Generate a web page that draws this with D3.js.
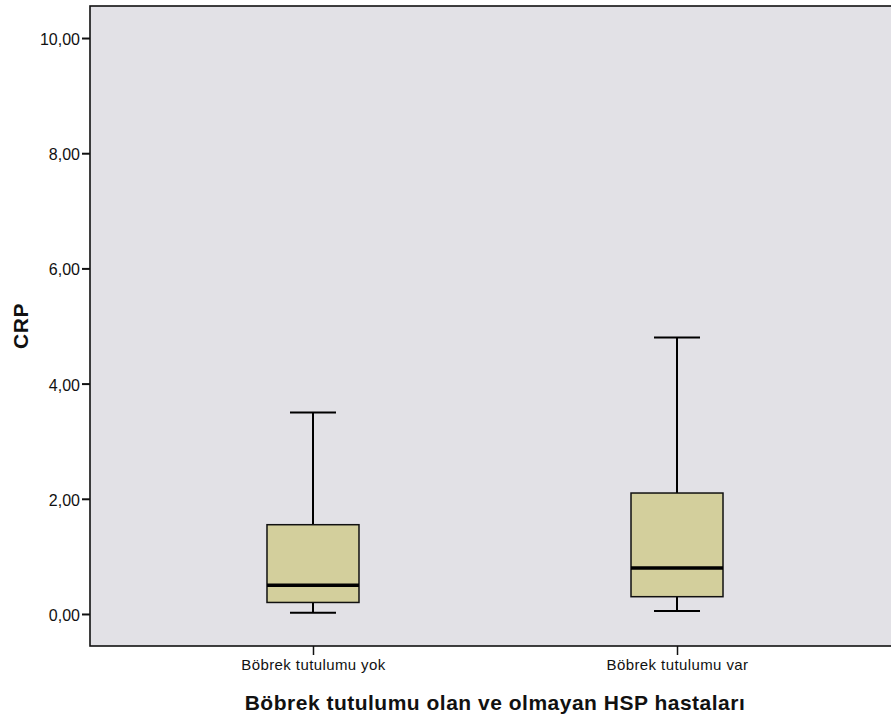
<!DOCTYPE html>
<html>
<head>
<meta charset="utf-8">
<script src="https://cdn.jsdelivr.net/npm/d3@7"></script>
<style>
  body { margin: 0; background: #fff; }
  text { font-family: "Liberation Sans", Arial, sans-serif; }
</style>
</head>
<body>
<svg width="891" height="720"></svg>
<script>
// data
const groups = ['Böbrek tutulumu yok', 'Böbrek tutulumu var'];
const whiskerLow = [0.02, 0.05];
const q1 = [0.2, 0.3];
const median = [0.5, 0.8];
const q3 = [1.55, 2.1];
const whiskerHigh = [3.5, 4.8];
const yTicks = [0, 2, 4, 6, 8, 10];

const svg = d3.select('svg');
const margin = { top: 6, right: -9, bottom: 74, left: 90 };
const width = 891, height = 720;

const x = d3.scalePoint()
  .domain(groups)
  .range([margin.left, width - margin.right])
  .padding(0.6126);

const y = d3.scaleLinear()
  .domain([-0.556, 10.556])
  .range([height - margin.bottom, margin.top]);

const boxes = groups.map((g, i) => ({
  g, lo: whiskerLow[i], q1: q1[i], med: median[i], q3: q3[i], hi: whiskerHigh[i]
}));

// plot background
svg.append('rect')
  .attr('x', margin.left)
  .attr('y', margin.top)
  .attr('width', width - margin.right - margin.left)
  .attr('height', height - margin.bottom - margin.top)
  .attr('fill', '#e2e1e6')
  .attr('stroke', '#111')
  .attr('stroke-width', 1.6);

// y axis
const yAxis = svg.append('g')
  .attr('transform', `translate(${margin.left},0)`)
  .call(d3.axisLeft(y).tickValues(yTicks).tickSize(8)
    .tickFormat(d => d3.format('.2f')(d).replace('.', ',')));
yAxis.select('.domain').remove();
yAxis.selectAll('line').attr('stroke', '#111').attr('stroke-width', 2);
yAxis.selectAll('text')
  .attr('font-size', 16)
  .attr('fill', '#111')
  .attr('x', -10)
  .attr('dy', '0.4em');

// x axis
const xAxis = svg.append('g')
  .attr('transform', `translate(0,${height - margin.bottom})`)
  .call(d3.axisBottom(x).tickSize(9));
xAxis.select('.domain').remove();
xAxis.selectAll('line').attr('stroke', '#111').attr('stroke-width', 1.5);
xAxis.selectAll('text')
  .attr('font-size', 15)
  .attr('letter-spacing', 0.4)
  .attr('fill', '#111')
  .attr('dy', 0)
  .attr('y', 24);

const bw = 92, cap = 46;
const g = svg.append('g').selectAll('g').data(boxes).join('g');

g.append('line')
  .attr('x1', d => x(d.g)).attr('x2', d => x(d.g))
  .attr('y1', d => y(d.hi)).attr('y2', d => y(d.q3))
  .attr('stroke', '#000').attr('stroke-width', 2);
g.append('line')
  .attr('x1', d => x(d.g)).attr('x2', d => x(d.g))
  .attr('y1', d => y(d.q1)).attr('y2', d => y(d.lo))
  .attr('stroke', '#000').attr('stroke-width', 2);
g.append('line')
  .attr('x1', d => x(d.g) - cap / 2).attr('x2', d => x(d.g) + cap / 2)
  .attr('y1', d => y(d.hi)).attr('y2', d => y(d.hi))
  .attr('stroke', '#000').attr('stroke-width', 2);
g.append('line')
  .attr('x1', d => x(d.g) - cap / 2).attr('x2', d => x(d.g) + cap / 2)
  .attr('y1', d => y(d.lo)).attr('y2', d => y(d.lo))
  .attr('stroke', '#000').attr('stroke-width', 2);
g.append('rect')
  .attr('x', d => x(d.g) - bw / 2)
  .attr('width', bw)
  .attr('y', d => y(d.q3))
  .attr('height', d => y(d.q1) - y(d.q3))
  .attr('fill', '#d3cf9c')
  .attr('stroke', '#111')
  .attr('stroke-width', 1.5);
g.append('line')
  .attr('x1', d => x(d.g) - bw / 2).attr('x2', d => x(d.g) + bw / 2)
  .attr('y1', d => y(d.med)).attr('y2', d => y(d.med))
  .attr('stroke', '#000').attr('stroke-width', 3.5);

// titles
svg.append('text')
  .attr('transform', `translate(28,326) rotate(-90)`)
  .attr('text-anchor', 'middle')
  .attr('font-size', 21)
  .attr('font-weight', 'bold')
  .attr('letter-spacing', 0.5)
  .attr('fill', '#111')
  .text('CRP');

svg.append('text')
  .attr('x', 495)
  .attr('y', 710)
  .attr('text-anchor', 'middle')
  .attr('font-size', 21)
  .attr('font-weight', 'bold')
  .attr('letter-spacing', 0.5)
  .attr('fill', '#111')
  .text('Böbrek tutulumu olan ve olmayan HSP hastaları');
</script>
</body>
</html>
